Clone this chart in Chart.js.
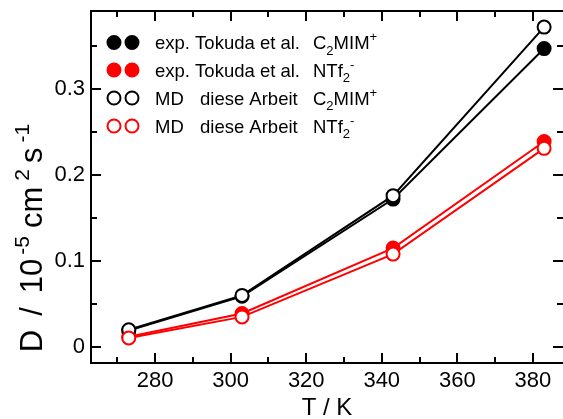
<!DOCTYPE html>
<html>
<head>
<meta charset="utf-8">
<script src="https://cdn.jsdelivr.net/npm/chart.js@4/dist/chart.umd.min.js"></script>
<style>
  html, body { margin: 0; padding: 0; background: #fff; }
  #wrap { width: 563px; height: 419px; }
</style>
</head>
<body>
<div id="wrap"><canvas id="c" width="563" height="419"></canvas></div>
<script>
// Temperatures (K) and self-diffusion coefficients D (10^-5 cm^2 s^-1)
const temperatures = [273, 303, 343, 383];
const expCation = [0.019, 0.059, 0.172, 0.347];   // exp. Tokuda et al., C2MIM+
const expAnion  = [0.012, 0.039, 0.115, 0.239];   // exp. Tokuda et al., NTf2-
const mdCation  = [0.020, 0.060, 0.176, 0.372];   // MD diese Arbeit, C2MIM+
const mdAnion   = [0.0105, 0.035, 0.108, 0.231];  // MD diese Arbeit, NTf2-

const xTickLabels = [280, 300, 320, 340, 360, 380];
const yTickLabels = [0, 0.1, 0.2, 0.3];

const FONT = '"Liberation Sans", Arial, Helvetica, sans-serif';

const pts = vals => temperatures.map((t, i) => ({ x: t, y: vals[i] }));

function series(label, vals, color, filled, order) {
  return {
    label,
    data: pts(vals),
    borderColor: color,
    borderWidth: 2,
    backgroundColor: filled ? color : '#ffffff',
    pointBackgroundColor: filled ? color : '#ffffff',
    pointBorderColor: color,
    pointBorderWidth: 2,
    pointRadius: 6.5,
    pointHoverRadius: 6.5,
    tension: 0,
    fill: false,
    order
  };
}

// Mixed-style text runs: normal, subscript, superscript
function runSize(r, size) {
  return r.t === 'n' ? size : Math.round(size * 0.68);
}
function drawRich(ctx, x, y, runs, size) {
  let cx = x;
  for (const r of runs) {
    ctx.font = runSize(r, size) + 'px ' + FONT;
    let dy = 0;
    if (r.t === 'sub') dy = size * 0.3;
    if (r.t === 'sup') dy = -size * 0.42;
    ctx.fillText(r.s, cx, y + dy);
    cx += ctx.measureText(r.s).width + (r.gap || 0);
  }
  return cx - x;
}
function richWidth(ctx, runs, size) {
  let w = 0;
  for (const r of runs) {
    ctx.font = runSize(r, size) + 'px ' + FONT;
    w += ctx.measureText(r.s).width + (r.gap || 0);
  }
  return w;
}

const framePlugin = {
  id: 'frame',
  beforeDatasetsDraw(chart) {
    const { ctx, chartArea: a, scales: { x, y } } = chart;
    ctx.save();
    ctx.strokeStyle = '#000';
    ctx.lineWidth = 2;
    ctx.beginPath();
    ctx.rect(a.left, a.top, a.right + 1 - a.left, a.bottom - a.top);
    ctx.stroke();
    ctx.beginPath();
    for (let v = 270; v <= 380; v += 10) {
      const px = Math.round(x.getPixelForValue(v));
      const len = v % 20 === 0 ? 10 : 6;
      ctx.moveTo(px, a.bottom); ctx.lineTo(px, a.bottom - len);
      ctx.moveTo(px, a.top); ctx.lineTo(px, a.top + len);
    }
    for (let k = 0; k <= 7; k++) {
      const v = k * 0.05;
      const py = Math.round(y.getPixelForValue(v));
      const len = k % 2 === 0 ? 10 : 6;
      ctx.moveTo(a.left, py); ctx.lineTo(a.left + len, py);
      ctx.moveTo(a.right, py); ctx.lineTo(a.right - len, py);
    }
    ctx.stroke();
    ctx.restore();
  },
  afterDraw(chart) {
    const { ctx } = chart;
    ctx.save();
    ctx.fillStyle = '#000';
    ctx.textBaseline = 'alphabetic';
    ctx.textAlign = 'left';

    // y-axis title
    const yRuns = [
      { s: 'D', t: 'n', gap: 14 }, { s: '/', t: 'n', gap: 14 }, { s: '10', t: 'n', gap: 4 },
      { s: '-5', t: 'sup', gap: 8 },
      { s: 'cm', t: 'n', gap: 6 }, { s: '2', t: 'sup', gap: 6 },
      { s: 's', t: 'n', gap: 5 }, { s: '-1', t: 'sup' }
    ];
    const ySize = 31;
    const w = richWidth(ctx, yRuns, ySize);
    ctx.save();
    ctx.translate(42, 238);
    ctx.rotate(-Math.PI / 2);
    drawRich(ctx, -w / 2, 0, yRuns, ySize);
    ctx.restore();

    // legend
    const rows = [
      { color: '#000', filled: true,  a: 'exp. Tokuda et al.', ion: 'cation' },
      { color: '#ff0000', filled: true,  a: 'exp. Tokuda et al.', ion: 'anion' },
      { color: '#000', filled: false, a: 'MD', a2: 'diese Arbeit', ion: 'cation' },
      { color: '#ff0000', filled: false, a: 'MD', a2: 'diese Arbeit', ion: 'anion' }
    ];
    const rowY = [42.5, 70, 98, 126];
    rows.forEach((r, i) => {
      const cy = rowY[i];
      ctx.lineWidth = 2;
      [114, 132].forEach(cx => {
        ctx.beginPath();
        ctx.arc(cx, cy, 6.5, 0, Math.PI * 2);
        ctx.fillStyle = r.filled ? r.color : '#fff';
        ctx.fill();
        ctx.strokeStyle = r.color;
        ctx.stroke();
      });
      ctx.fillStyle = '#000';
      const base = cy + 6.5;
      ctx.font = '18.5px ' + FONT;
      ctx.fillText(r.a, 155, base);
      if (r.a2) ctx.fillText(r.a2, 200, base);
      const ion = r.ion === 'cation'
        ? [{ s: 'C', t: 'n' }, { s: '2', t: 'sub' }, { s: 'MIM', t: 'n' }, { s: '+', t: 'sup' }]
        : [{ s: 'NTf', t: 'n' }, { s: '2', t: 'sub' }, { s: '-', t: 'sup' }];
      drawRich(ctx, 313, base, ion, 18.5);
    });
    ctx.restore();
  }
};

new Chart(document.getElementById('c'), {
  type: 'line',
  data: {
    datasets: [
      series('exp. Tokuda et al. C2MIM+', expCation, '#000000', true, 3),
      series('exp. Tokuda et al. NTf2-', expAnion, '#ff0000', true, 2),
      series('MD diese Arbeit C2MIM+', mdCation, '#000000', false, 1),
      series('MD diese Arbeit NTf2-', mdAnion, '#ff0000', false, 0)
    ]
  },
  options: {
    responsive: false,
    animation: false,
    devicePixelRatio: 1,
    layout: { autoPadding: false, padding: { top: 11, right: 0, bottom: 0, left: 0 } },
    plugins: {
      legend: { display: false },
      tooltip: { enabled: false }
    },
    scales: {
      x: {
        type: 'linear',
        min: 263,
        max: 388,
        grid: { display: false, drawTicks: false },
        border: { display: false },
        afterBuildTicks: s => { s.ticks = xTickLabels.map(v => ({ value: v })); },
        afterFit: s => { s.height = 56; s.paddingLeft = 0; s.paddingRight = 0; },
        ticks: {
          color: '#000',
          font: { family: FONT, size: 22 },
          padding: 5,
          maxRotation: 0,
          callback: v => String(v)
        },
        title: {
          display: true,
          text: 'T / K',
          color: '#000',
          font: { family: FONT, size: 24, lineHeight: 0.9 },
          padding: { top: 0, bottom: 0 }
        }
      },
      y: {
        type: 'linear',
        min: -0.0186,
        max: 0.3907,
        grid: { display: false, drawTicks: false },
        border: { display: false },
        afterBuildTicks: s => { s.ticks = yTickLabels.map(v => ({ value: v })); },
        afterFit: s => { s.width = 91; s.paddingTop = 0; s.paddingBottom = 0; },
        ticks: {
          color: '#000',
          font: { family: FONT, size: 22 },
          padding: 6,
          callback: v => (v === 0 ? '0' : v.toFixed(1))
        }
      }
    }
  },
  plugins: [framePlugin]
});
</script>
</body>
</html>
